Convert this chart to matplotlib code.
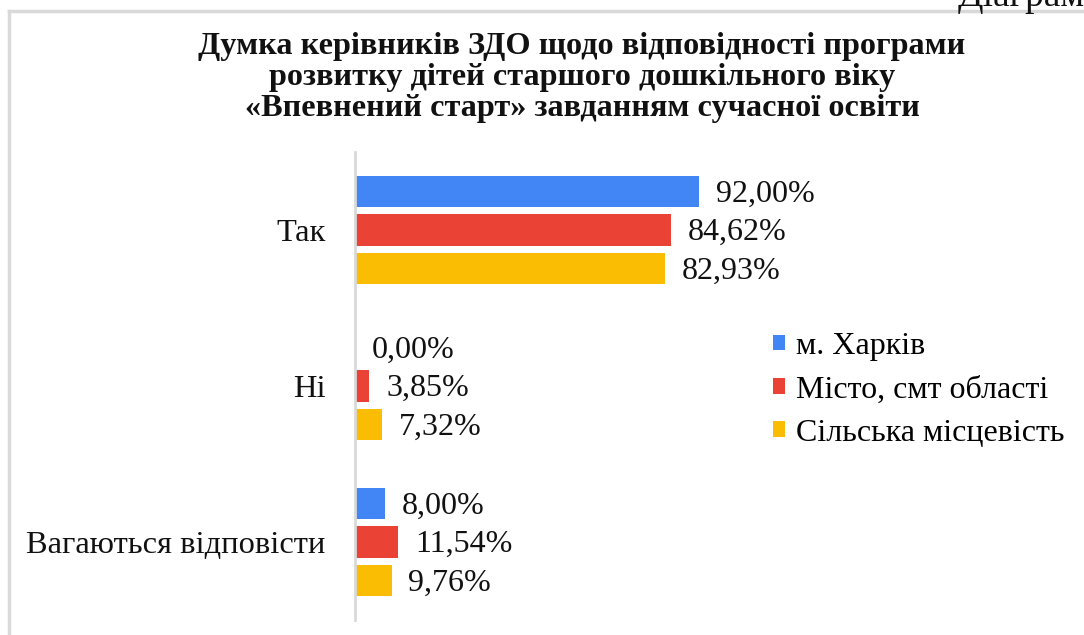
"""Horizontal grouped bar chart: opinion of preschool heads on the 'Впевнений старт' program"""

import matplotlib.pyplot as plt
from matplotlib.lines import Line2D
from matplotlib.patches import Patch
import numpy as np

plt.rcParams['font.family'] = ['Liberation Serif', 'DejaVu Serif']

categories = ['Так', 'Ні', 'Вагаються відповісти']
series_names = ['м. Харків', 'Місто, смт області', 'Сільська місцевість']
kharkiv = [92.00, 0.00, 8.00]
city = [84.62, 3.85, 11.54]
rural = [82.93, 7.32, 9.76]

title = ('Думка керівників ЗДО щодо відповідності програми\n'
         'розвитку дітей старшого дошкільного віку\n'
         '«Впевнений старт» завданням сучасної освіти')

colors = ['#4285F4', '#EA4335', '#FBBC04']


def fmt(v):
	return f"{v:.2f}%".replace('.', ',')


def main():
	W, H = 1084, 635
	fig = plt.figure(figsize=(W / 100, H / 100), dpi=100)

	# frame of the chart area (left and top edges visible)
	frame_col = '#d9d9d9'
	fig.add_artist(Line2D([9 / W, 9 / W], [0, 1 - 11 / H], transform=fig.transFigure,
	                      color=frame_col, lw=2.5))
	fig.add_artist(Line2D([9 / W, 1], [1 - 11 / H, 1 - 11 / H], transform=fig.transFigure,
	                      color=frame_col, lw=2.5))

	# caption at top right, cut by the page edge as in the source
	fig.text(958 / W, 1 - 6 / H, 'Діаграма', fontsize=27, ha='left', va='baseline', color='#111111')

	ax = fig.add_axes([355 / W, 1 - 620 / H, (740 - 355) / W, (620 - 152) / H])

	y = np.arange(len(categories))
	step = 0.248
	height = 0.2
	for i, (vals, name) in enumerate(zip([kharkiv, city, rural], series_names)):
		ypos = y + (i - 1) * step
		ax.barh(ypos, vals, height=height, color=colors[i], label=name)
		for yy, v in zip(ypos, vals):
			ax.annotate(fmt(v), xy=(v, yy), xytext=(12, -2), textcoords='offset points',
			            ha='left', va='center', fontsize=23, color='#111111')

	ax.set_xlim(0, (740 - 355) / 3.74)
	ax.set_ylim(2.5, -0.5)
	ax.set_yticks(y)
	ax.set_yticklabels(categories, fontsize=23.4, color='#111111')
	ax.tick_params(axis='y', length=0, pad=21)
	ax.set_xticks([])
	for side in ['top', 'right', 'bottom']:
		ax.spines[side].set_visible(False)
	ax.spines['left'].set_color(frame_col)
	ax.spines['left'].set_linewidth(2)

	fig.text(0.537, 1 - 32 / H, title, ha='center', va='top', fontsize=23.2,
	         fontweight='bold', linespacing=1.1, color='#111111')

	handles = [Patch(facecolor=c) for c in colors]
	fig.legend(handles, series_names, loc='upper left', bbox_to_anchor=(773 / W, 1 - 332 / H),
	           frameon=False, fontsize=23, handlelength=0.38, handleheight=0.38,
	           handletextpad=0.35, labelspacing=0.45, borderpad=0, borderaxespad=0)

	plt.savefig('out.png', dpi=100)
	plt.close()


if __name__ == "__main__":
	main()
